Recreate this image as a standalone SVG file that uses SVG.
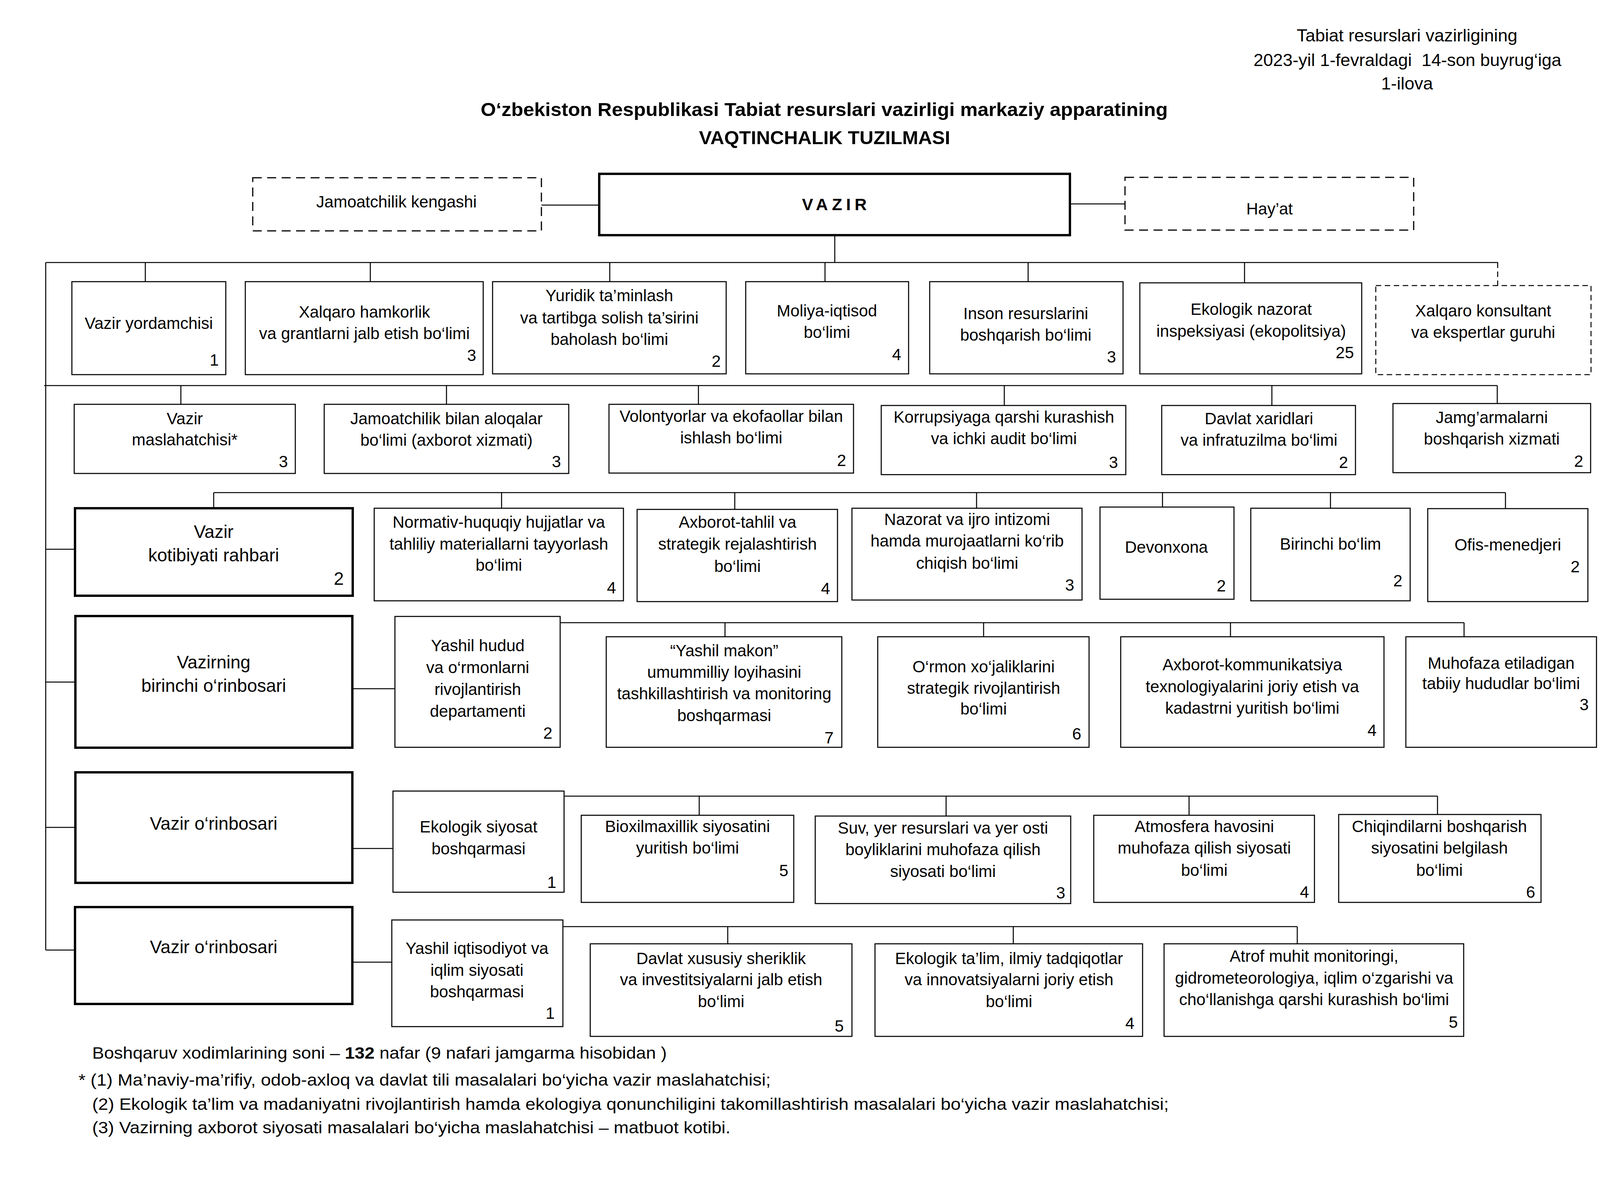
<svg xmlns="http://www.w3.org/2000/svg" width="4300" height="3036" viewBox="0 0 4300 3036">
<style>
.b{fill:#fff;stroke:#000;stroke-width:2.7}
.k{stroke-width:6}
.d{stroke-dasharray:23 14;stroke-width:3}
.d2{stroke-dasharray:14 9;stroke-width:2.5}
text{font-family:"Liberation Sans",Arial,sans-serif;font-size:42px;fill:#000}
.c{text-anchor:middle}
.n{text-anchor:end}
.L{font-size:46px}
.h{font-size:45px}
.tt{font-size:48px;font-weight:bold}
#conn path{stroke:#000;stroke-width:2.6;fill:none}
#conn .dl{stroke-dasharray:14 9}
</style>
<rect width="4300" height="3036" fill="#fff"/>
<g id="header">
<text class="c h" x="3602" y="106">Tabiat resurslari vazirligining</text>
<text class="c h" x="3603" y="169" xml:space="preserve">2023-yil 1-fevraldagi  14-son buyrug‘iga</text>
<text class="c h" x="3602" y="229">1-ilova</text>
<text class="c tt" x="2110" y="297" textLength="1759" lengthAdjust="spacingAndGlyphs">O‘zbekiston Respublikasi Tabiat resurslari vazirligi markaziy apparatining</text>
<text class="c tt" x="2111" y="369" textLength="643" lengthAdjust="spacingAndGlyphs">VAQTINCHALIK TUZILMASI</text>
</g>
<g id="conn">
<path d="M1386 525H1534M2739 522H2880M2137 602V672M117 672H3835M117 672V2432"/>
<path d="M372 672V721M948 672V721M1561 672V721M2112 672V721M2632 672V721M3186 672V724"/>
<path class="dl" d="M3834 672V731"/>
<path d="M113 987H3833M463 987V1035M1143 987V1035M1788 987V1035M2571 987V1038M3256 987V1038M3833 987V1033"/>
<path d="M547 1261H3854M547 1261V1301M1284 1261V1301M1881 1261V1304M2500 1261V1301M2976 1261V1298M3406 1261V1301M3854 1261V1302"/>
<path d="M117 1406H192M117 1746H193M117 2118H193M117 2432H192"/>
<path d="M902 1763H1011M1434 1594H3748M1856 1594V1630M2518 1594V1630M3150 1594V1630M3748 1594V1630"/>
<path d="M902 2172H1006M1444 2038H3680M1790 2038V2087M2422 2038V2089M3044 2038V2087M3680 2038V2085"/>
<path d="M902 2463H1003M1441 2372H3321M1863 2372V2416M2594 2372V2416M3321 2372V2416"/>
</g>
<g id="jamoatchilik-kengashi"><rect class="b d" x="647" y="455" width="739" height="136"/><text class="c" x="1015" y="531">Jamoatchilik kengashi</text></g>
<g id="vazir"><rect class="b k" x="1534" y="445" width="1205" height="157"/><text class="c" x="2141" y="538" style="font-weight:bold;font-size:43px;letter-spacing:10px">VAZIR</text></g>
<g id="hayat"><rect class="b d" x="2880" y="454" width="739" height="135"/><text class="c" x="3250" y="549">Hay’at</text></g>

<g id="vazir-yordamchisi"><rect class="b" x="184" y="721" width="394" height="238"/><text class="c" x="381" y="842">Vazir yordamchisi</text><text class="n" x="560" y="936">1</text></g>
<g id="xalqaro-hamkorlik"><rect class="b" x="628" y="721" width="609" height="238"/><text class="c"><tspan x="933" y="813">Xalqaro hamkorlik</tspan><tspan x="933" y="868">va grantlarni jalb etish bo‘limi</tspan></text><text class="n" x="1219" y="924">3</text></g>
<g id="yuridik"><rect class="b" x="1261" y="721" width="598" height="236"/><text class="c"><tspan x="1560" y="771">Yuridik ta’minlash</tspan><tspan x="1560" y="828">va tartibga solish ta’sirini</tspan><tspan x="1560" y="883">baholash bo‘limi</tspan></text><text class="n" x="1845" y="939">2</text></g>
<g id="moliya"><rect class="b" x="1909" y="721" width="417" height="236"/><text class="c"><tspan x="2117" y="810">Moliya-iqtisod</tspan><tspan x="2117" y="865">bo‘limi</tspan></text><text class="n" x="2307" y="922">4</text></g>
<g id="inson-resurslari"><rect class="b" x="2380" y="721" width="495" height="236"/><text class="c"><tspan x="2626" y="817">Inson resurslarini</tspan><tspan x="2626" y="872">boshqarish bo‘limi</tspan></text><text class="n" x="2857" y="928">3</text></g>
<g id="ekologik-nazorat"><rect class="b" x="2918" y="724" width="568" height="233"/><text class="c"><tspan x="3203" y="806">Ekologik nazorat</tspan><tspan x="3203" y="862">inspeksiyasi (ekopolitsiya)</tspan></text><text class="n" x="3466" y="917">25</text></g>
<g id="xalqaro-konsultant"><rect class="b d2" x="3522" y="731" width="551" height="228"/><text class="c"><tspan x="3797" y="810">Xalqaro konsultant</tspan><tspan x="3797" y="865">va ekspertlar guruhi</tspan></text></g>

<g id="vazir-maslahatchisi"><rect class="b" x="190" y="1035" width="566" height="177"/><text class="c"><tspan x="473" y="1086">Vazir</tspan><tspan x="473" y="1140">maslahatchisi*</tspan></text><text class="n" x="737" y="1196">3</text></g>
<g id="jamoatchilik-aloqalar"><rect class="b" x="830" y="1035" width="626" height="177"/><text class="c"><tspan x="1143" y="1086">Jamoatchilik bilan aloqalar</tspan><tspan x="1143" y="1141">bo‘limi (axborot xizmati)</tspan></text><text class="n" x="1436" y="1196">3</text></g>
<g id="volontyorlar"><rect class="b" x="1559" y="1035" width="626" height="176"/><text class="c"><tspan x="1872" y="1080">Volontyorlar va ekofaollar bilan</tspan><tspan x="1872" y="1135">ishlash bo‘limi</tspan></text><text class="n" x="2166" y="1193">2</text></g>
<g id="korrupsiya"><rect class="b" x="2256" y="1038" width="626" height="177"/><text class="c"><tspan x="2570" y="1082">Korrupsiyaga qarshi kurashish</tspan><tspan x="2570" y="1137">va ichki audit bo‘limi</tspan></text><text class="n" x="2862" y="1198">3</text></g>
<g id="davlat-xaridlari"><rect class="b" x="2974" y="1038" width="496" height="177"/><text class="c"><tspan x="3223" y="1086">Davlat xaridlari</tspan><tspan x="3223" y="1141">va infratuzilma bo‘limi</tspan></text><text class="n" x="3451" y="1198">2</text></g>
<g id="jamgarmalar"><rect class="b" x="3566" y="1033" width="506" height="177"/><text class="c"><tspan x="3819" y="1083">Jamg’armalarni</tspan><tspan x="3819" y="1138">boshqarish xizmati</tspan></text><text class="n" x="4053" y="1195">2</text></g>

<g id="vazir-kotibiyati"><rect class="b k" x="192" y="1301" width="711" height="224"/><text class="c L"><tspan x="547" y="1377">Vazir</tspan><tspan x="547" y="1437">kotibiyati rahbari</tspan></text><text class="n L" x="880" y="1497">2</text></g>
<g id="normativ"><rect class="b" x="958" y="1301" width="638" height="237"/><text class="c"><tspan x="1277" y="1351">Normativ-huquqiy hujjatlar va</tspan><tspan x="1277" y="1407">tahliliy materiallarni tayyorlash</tspan><tspan x="1277" y="1461">bo‘limi</tspan></text><text class="n" x="1577" y="1519">4</text></g>
<g id="axborot-tahlil"><rect class="b" x="1631" y="1304" width="513" height="236"/><text class="c"><tspan x="1888" y="1351">Axborot-tahlil va</tspan><tspan x="1888" y="1407">strategik rejalashtirish</tspan><tspan x="1888" y="1464">bo‘limi</tspan></text><text class="n" x="2125" y="1521">4</text></g>
<g id="nazorat"><rect class="b" x="2181" y="1301" width="589" height="235"/><text class="c"><tspan x="2476" y="1344">Nazorat va ijro intizomi</tspan><tspan x="2476" y="1399">hamda murojaatlarni ko‘rib</tspan><tspan x="2476" y="1456">chiqish bo‘limi</tspan></text><text class="n" x="2750" y="1512">3</text></g>
<g id="devonxona"><rect class="b" x="2816" y="1298" width="343" height="236"/><text class="c" x="2986" y="1415">Devonxona</text><text class="n" x="3138" y="1514">2</text></g>
<g id="birinchi-bolim"><rect class="b" x="3202" y="1301" width="408" height="237"/><text class="c" x="3406" y="1407">Birinchi bo‘lim</text><text class="n" x="3590" y="1501">2</text></g>
<g id="ofis-menedjeri"><rect class="b" x="3655" y="1302" width="410" height="238"/><text class="c" x="3860" y="1409">Ofis-menedjeri</text><text class="n" x="4044" y="1465">2</text></g>

<g id="birinchi-orinbosar"><rect class="b k" x="193" y="1577" width="709" height="337"/><text class="c L"><tspan x="547" y="1711">Vazirning</tspan><tspan x="547" y="1771">birinchi o‘rinbosari</tspan></text></g>
<g id="yashil-hudud"><rect class="b" x="1011" y="1578" width="423" height="335"/><text class="c"><tspan x="1223" y="1667">Yashil hudud</tspan><tspan x="1223" y="1723">va o‘rmonlarni</tspan><tspan x="1223" y="1779">rivojlantirish</tspan><tspan x="1223" y="1835">departamenti</tspan></text><text class="n" x="1414" y="1891">2</text></g>
<g id="yashil-makon"><rect class="b" x="1552" y="1630" width="603" height="283"/><text class="c"><tspan x="1854" y="1680">“Yashil makon”</tspan><tspan x="1854" y="1735">umummilliy loyihasini</tspan><tspan x="1854" y="1790">tashkillashtirish va monitoring</tspan><tspan x="1854" y="1846">boshqarmasi</tspan></text><text class="n" x="2134" y="1903">7</text></g>
<g id="ormon"><rect class="b" x="2247" y="1630" width="541" height="283"/><text class="c"><tspan x="2518" y="1721">O‘rmon xo‘jaliklarini</tspan><tspan x="2518" y="1776">strategik rivojlantirish</tspan><tspan x="2518" y="1829">bo‘limi</tspan></text><text class="n" x="2768" y="1893">6</text></g>
<g id="axborot-kommunikatsiya"><rect class="b" x="2869" y="1630" width="674" height="283"/><text class="c"><tspan x="3206" y="1716">Axborot-kommunikatsiya</tspan><tspan x="3206" y="1772">texnologiyalarini joriy etish va</tspan><tspan x="3206" y="1827">kadastrni yuritish bo‘limi</tspan></text><text class="n" x="3524" y="1884">4</text></g>
<g id="muhofaza"><rect class="b" x="3599" y="1630" width="488" height="283"/><text class="c"><tspan x="3843" y="1712">Muhofaza etiladigan</tspan><tspan x="3843" y="1764">tabiiy hududlar bo‘limi</tspan></text><text class="n" x="4067" y="1818">3</text></g>

<g id="orinbosar-1"><rect class="b k" x="193" y="1977" width="709" height="283"/><text class="c L" x="547" y="2124">Vazir o‘rinbosari</text></g>
<g id="ekologik-siyosat"><rect class="b" x="1006" y="2025" width="438" height="259"/><text class="c"><tspan x="1225" y="2131">Ekologik siyosat</tspan><tspan x="1225" y="2187">boshqarmasi</tspan></text><text class="n" x="1424" y="2273">1</text></g>
<g id="bioxilmaxillik"><rect class="b" x="1488" y="2087" width="544" height="223"/><text class="c"><tspan x="1760" y="2130">Bioxilmaxillik siyosatini</tspan><tspan x="1760" y="2185">yuritish bo‘limi</tspan></text><text class="n" x="2018" y="2243">5</text></g>
<g id="suv-yer"><rect class="b" x="2087" y="2089" width="654" height="224"/><text class="c"><tspan x="2414" y="2134">Suv, yer resurslari va yer osti</tspan><tspan x="2414" y="2189">boyliklarini muhofaza qilish</tspan><tspan x="2414" y="2245">siyosati bo‘limi</tspan></text><text class="n" x="2727" y="2300">3</text></g>
<g id="atmosfera"><rect class="b" x="2800" y="2087" width="565" height="223"/><text class="c"><tspan x="3083" y="2130">Atmosfera havosini</tspan><tspan x="3083" y="2185">muhofaza qilish siyosati</tspan><tspan x="3083" y="2242">bo‘limi</tspan></text><text class="n" x="3351" y="2298">4</text></g>
<g id="chiqindilar"><rect class="b" x="3427" y="2085" width="518" height="225"/><text class="c"><tspan x="3685" y="2130">Chiqindilarni boshqarish</tspan><tspan x="3685" y="2185">siyosatini belgilash</tspan><tspan x="3685" y="2242">bo‘limi</tspan></text><text class="n" x="3930" y="2298">6</text></g>

<g id="orinbosar-2"><rect class="b k" x="192" y="2322" width="710" height="248"/><text class="c L" x="547" y="2440">Vazir o‘rinbosari</text></g>
<g id="yashil-iqtisodiyot"><rect class="b" x="1003" y="2355" width="438" height="273"/><text class="c"><tspan x="1221" y="2442">Yashil iqtisodiyot va</tspan><tspan x="1221" y="2498">iqlim siyosati</tspan><tspan x="1221" y="2553">boshqarmasi</tspan></text><text class="n" x="1420" y="2608">1</text></g>
<g id="davlat-xususiy"><rect class="b" x="1511" y="2416" width="670" height="237"/><text class="c"><tspan x="1846" y="2468">Davlat xususiy sheriklik</tspan><tspan x="1846" y="2522">va investitsiyalarni jalb etish</tspan><tspan x="1846" y="2578">bo‘limi</tspan></text><text class="n" x="2160" y="2641">5</text></g>
<g id="ekologik-talim"><rect class="b" x="2240" y="2416" width="685" height="237"/><text class="c"><tspan x="2583" y="2468">Ekologik ta’lim, ilmiy tadqiqotlar</tspan><tspan x="2583" y="2522">va innovatsiyalarni joriy etish</tspan><tspan x="2583" y="2578">bo‘limi</tspan></text><text class="n" x="2904" y="2634">4</text></g>
<g id="atrof-muhit"><rect class="b" x="2980" y="2416" width="767" height="237"/><text class="c"><tspan x="3364" y="2462">Atrof muhit monitoringi,</tspan><tspan x="3364" y="2518">gidrometeorologiya, iqlim o‘zgarishi va</tspan><tspan x="3364" y="2573">cho‘llanishga qarshi kurashish bo‘limi</tspan></text><text class="n" x="3732" y="2631">5</text></g>

<g id="footer">
<text x="236" y="2710" textLength="1471" lengthAdjust="spacingAndGlyphs">Boshqaruv xodimlarining soni – <tspan font-weight="bold">132</tspan> nafar (9 nafari jamgarma hisobidan )</text>
<text x="201" y="2779" textLength="1772" lengthAdjust="spacingAndGlyphs">* (1) Ma’naviy-ma’rifiy, odob-axloq va davlat tili masalalari bo‘yicha vazir maslahatchisi;</text>
<text x="236" y="2841" textLength="2756" lengthAdjust="spacingAndGlyphs">(2) Ekologik ta’lim va madaniyatni rivojlantirish hamda ekologiya qonunchiligini takomillashtirish masalalari bo‘yicha vazir maslahatchisi;</text>
<text x="236" y="2901" textLength="1634" lengthAdjust="spacingAndGlyphs">(3) Vazirning axborot siyosati masalalari bo‘yicha maslahatchisi – matbuot kotibi.</text>
</g>
</svg>
